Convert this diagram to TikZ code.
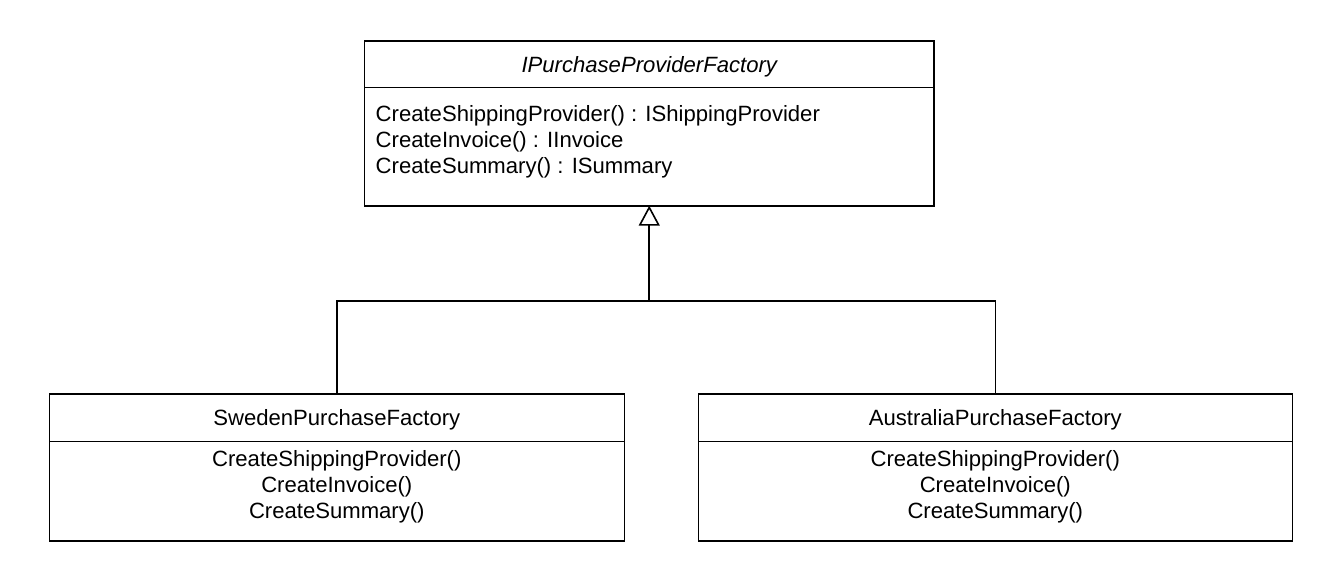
\documentclass[tikz,border=0pt]{standalone}
\usepackage{fontspec}
\setmainfont{Liberation Sans}
\usetikzlibrary{arrows.meta}
\begin{document}
\begin{tikzpicture}[x=1pt,y=-1pt,
  box/.style={draw=black, line width=1.6pt, inner sep=0pt, outer sep=0pt, anchor=north west},
  divider/.style={line width=1.3pt},
  txt/.style={inner sep=0pt, font=\fontsize{22.1}{26}\selectfont},
  conn/.style={line width=1.6pt},
  gen/.style={conn, -{Triangle[open, width=21pt, length=20pt, line width=1.6pt]}}
]
\useasboundingbox (0,0) rectangle (1333,565);
% top interface
\node[box, minimum width=569.5pt, minimum height=165pt] (top) at (364.5,40.7) {};
\draw[divider] (364.5,87.5) -- (934,87.5);
\node[txt, anchor=base] (toptitle) at (649.25,72.7) {\itshape IPurchaseProviderFactory};
\node[txt, anchor=base west] (tm1) at (375.5,121) {CreateShippingProvider() : IShippingProvider};
\node[txt, anchor=base west] (tm2) at (375.5,147) {CreateInvoice() : IInvoice};
\node[txt, anchor=base west] (tm3) at (375.5,173) {CreateSummary() : ISummary};
% Sweden
\node[box, minimum width=575pt, minimum height=147pt] (sw) at (49.3,394) {};
\draw[divider] (49.3,441.5) -- (624.3,441.5);
\node[txt, anchor=base] (swtitle) at (336.8,425.7) {SwedenPurchaseFactory};
\node[txt, anchor=base] (sm1) at (336.8,466.7) {CreateShippingProvider()};
\node[txt, anchor=base] (sm2) at (336.8,492.5) {CreateInvoice()};
\node[txt, anchor=base] (sm3) at (336.8,518.3) {CreateSummary()};
% Australia
\node[box, minimum width=594pt, minimum height=147pt] (ae) at (698.3,394) {};
\draw[divider] (698.3,441.5) -- (1292.3,441.5);
\node[txt, anchor=base] (aetitle) at (995.3,425.7) {AustraliaPurchaseFactory};
\node[txt, anchor=base] (am1) at (995.3,466.7) {CreateShippingProvider()};
\node[txt, anchor=base] (am2) at (995.3,492.5) {CreateInvoice()};
\node[txt, anchor=base] (am3) at (995.3,518.3) {CreateSummary()};
% generalization
\coordinate (j) at (649.25,301);
\draw[conn] (sw.north) |- (j);
\draw[conn] (ae.north) |- (j);
\draw[gen] (j) -- (top.south);
\end{tikzpicture}
\end{document}
